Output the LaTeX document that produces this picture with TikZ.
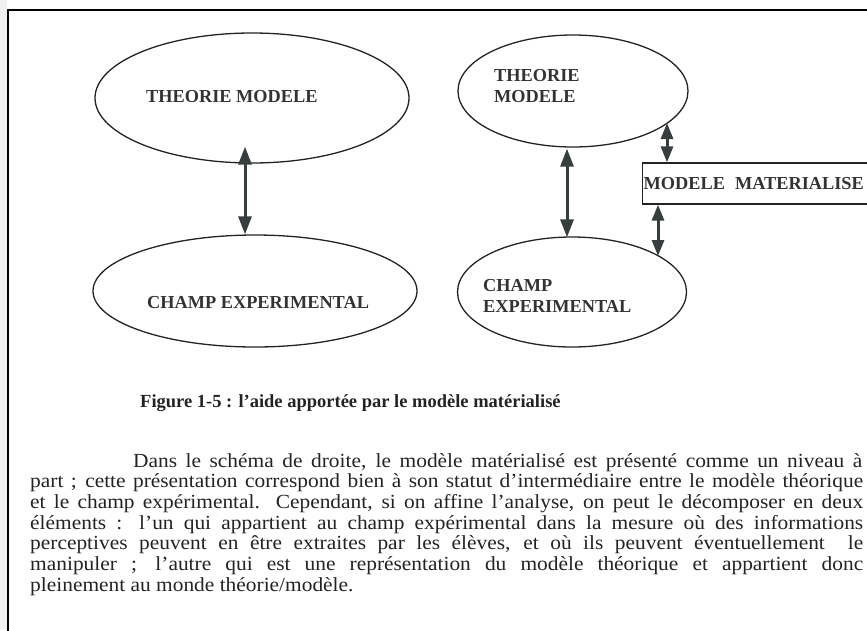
\documentclass[tikz,border=0pt]{standalone}
\usepackage{fontspec}
\setmainfont{Liberation Serif}
\newfontfamily\bodyfont[FakeStretch=1.07]{Liberation Serif}
\usetikzlibrary{shapes.geometric,arrows.meta,calc}
\definecolor{ink}{RGB}{35,35,35}
\definecolor{lblc}{RGB}{50,52,52}
\definecolor{arrowc}{RGB}{55,62,62}
\definecolor{strip}{RGB}{240,240,240}
\begin{document}
\begin{tikzpicture}[x=1pt,y=-1pt,
  oval/.style={ellipse, draw=ink, line width=1.3pt, inner sep=0pt},
  lbl/.style={font=\fontsize{18.3}{21}\selectfont\bfseries, text=lblc, inner sep=0pt, anchor=base west},
  bigarrow/.style={draw=arrowc, line width=3pt, {Triangle[length=18pt,width=13pt]}-{Triangle[length=18pt,width=13pt]}},
  smallarrow/.style={draw=arrowc, line width=3pt, {Triangle[length=16pt,width=12pt]}-{Triangle[length=16pt,width=12pt]}},
  para/.style={font=\bodyfont\fontsize{20}{21}\selectfont, text=ink, inner sep=0pt, anchor=base west},
  capt/.style={font=\fontsize{18.5}{21}\selectfont\bfseries, text=ink, inner sep=0pt, anchor=base west}
]
\useasboundingbox (0,0) rectangle (867,630);
\fill[strip] (0,0) rectangle (7,630);
\draw[line width=2.5pt, line cap=rect] (8,630) -- (8,10) -- (867,10);

% ellipses
\node[oval, minimum width=314pt, minimum height=130pt] (tl) at (252,98) {};
\node[oval, minimum width=324pt, minimum height=112pt] (bl) at (255,291) {};
\node[oval, minimum width=230pt, minimum height=112pt] (tr) at (573,91) {};
\node[oval, minimum width=229pt, minimum height=110pt] (br) at (572,292) {};

% labels
\node[lbl] (tlt) at (146,102.7) {THEORIE MODELE};
\node[lbl] (blt) at (147,308) {CHAMP EXPERIMENTAL};
\node[lbl] (trt1) at (494,81) {THEORIE};
\node[lbl] (trt2) at (494,102) {MODELE};
\node[lbl] (brt1) at (483,291) {CHAMP};
\node[lbl] (brt2) at (483,312) {EXPERIMENTAL};

% box
\node[draw=ink, line width=1.3pt, anchor=west, inner sep=1pt, text width=238pt,
      minimum height=41pt, align=left, font=\fontsize{18.3}{21}\selectfont\bfseries, text=lblc]
      (mm) at (642,183.5) {MODELE\hspace{0.55em}MATERIALISE};

% arrows
\draw[bigarrow] ([shift={(-7pt,17pt)}]tl.south) -- ([shift={(-10pt,0pt)}]bl.north);
\draw[bigarrow] ([shift={(-6pt,-1pt)}]tr.south) -- ([shift={(-5pt,-1pt)}]br.north);
\draw[smallarrow] ([shift={(94pt,-32pt)}]tr.center) -- ([xshift=25pt]mm.north west);
\draw[smallarrow] ([xshift=16pt]mm.south west) -- ([shift={(86pt,36pt)}]br.center);

% caption
\node[capt] (cap) at (140,407) {Figure 1-5 : l’aide apportée par le modèle matérialisé};

% paragraph
\node[para] (p1) at (133,467) {\makebox[729pt][s]{Dans le schéma de droite, le modèle matérialisé est présenté comme un niveau à}};
\node[para] (p2) at (30,487.7) {\makebox[833pt][s]{part ; cette présentation correspond bien à son statut d’intermédiaire entre le modèle théorique}};
\node[para] (p3) at (30,508.4) {\makebox[833pt][s]{et le champ expérimental. Cependant, si on affine l’analyse, on peut le décomposer en deux}};
\node[para] (p4) at (30,529.1) {\makebox[833pt][s]{éléments : l’un qui appartient au champ expérimental dans la mesure où des informations}};
\node[para] (p5) at (30,549.8) {\makebox[833pt][s]{perceptives peuvent en être extraites par les élèves, et où ils peuvent éventuellement \ le}};
\node[para] (p6) at (30,570.5) {\makebox[833pt][s]{manipuler ; l’autre qui est une représentation du modèle théorique et appartient donc}};
\node[para] (p7) at (30,591.2) {pleinement au monde théorie/modèle.};
\end{tikzpicture}
\end{document}
